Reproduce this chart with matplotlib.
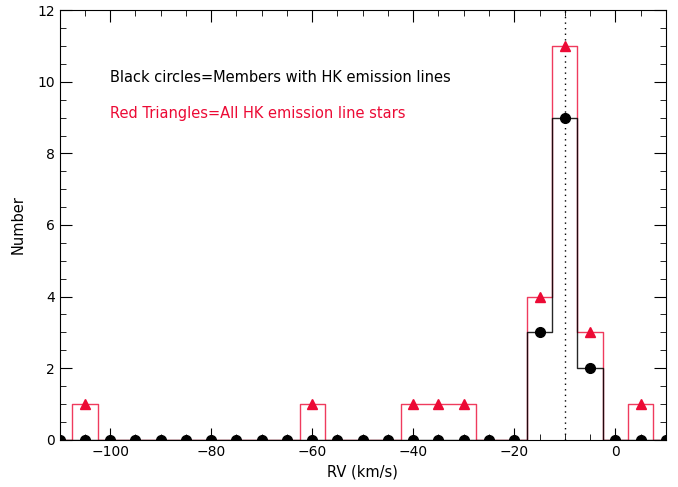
import numpy as np
import matplotlib.pyplot as plt
from matplotlib.ticker import MultipleLocator

# bin centres (km/s) and counts
rv_bins = np.arange(-110, 15, 5)
members = [0, 0, 0, 0, 0, 0, 0, 0, 0, 0, 0, 0, 0, 0, 0, 0, 0, 0, 0, 3, 9, 2, 0, 0, 0]
all_hk = [0, 1, 0, 0, 0, 0, 0, 0, 0, 0, 1, 0, 0, 0, 1, 1, 1, 0, 0, 4, 11, 3, 0, 1, 0]

red = "#ec0a35"

fig, ax = plt.subplots(figsize=(6.78, 4.87), dpi=100)
fig.subplots_adjust(left=0.088, right=0.982, top=0.979, bottom=0.097)

ax.step(rv_bins, all_hk, where="mid", color=red, lw=1.0, alpha=0.8)
ax.step(rv_bins, members, where="mid", color="black", lw=1.0, alpha=0.85)

nz = [i for i, v in enumerate(all_hk) if v > 0]
ax.plot(rv_bins[nz], [all_hk[i] for i in nz], "^", color=red, ms=6.5, zorder=3)
ax.plot(rv_bins, members, "o", color="black", ms=7, zorder=4)

ax.axvline(-10, color="black", ls=(0, (1, 3)), lw=1.0)

ax.text(-100, 10.13, "Black circles=Members with HK emission lines", fontsize=10.5, va="center")
ax.text(-100, 9.12, "Red Triangles=All HK emission line stars", fontsize=10.5, va="center", color=red)

ax.set_xlim(-110, 10)
ax.set_ylim(0, 12)
ax.xaxis.set_major_locator(MultipleLocator(20))
ax.xaxis.set_minor_locator(MultipleLocator(5))
ax.yaxis.set_major_locator(MultipleLocator(2))
ax.yaxis.set_minor_locator(MultipleLocator(0.5))
ax.tick_params(which="both", direction="in", top=True, right=True, labelsize=10)
ax.tick_params(which="major", length=8.5)
ax.tick_params(which="minor", length=4.3)
ax.set_xlabel("RV (km/s)", fontsize=10.5)
ax.set_ylabel("Number", fontsize=10.5, labelpad=8)

plt.savefig("out.png", dpi=100)
plt.close()
